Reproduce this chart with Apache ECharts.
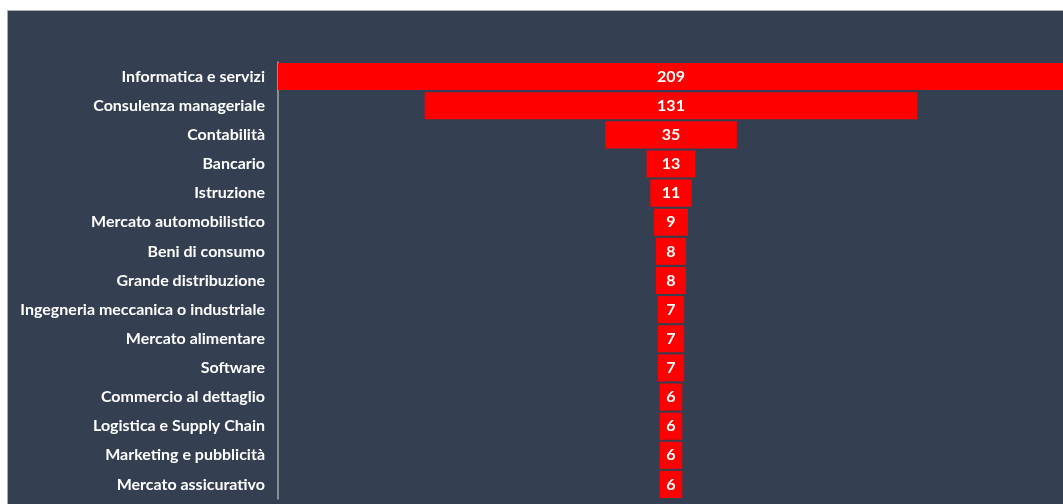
<!DOCTYPE html>
<html>
<head>
<meta charset="utf-8">
<script src="https://cdn.jsdelivr.net/npm/echarts@6/dist/echarts.min.js"></script>
<style>
  html, body { margin: 0; padding: 0; background: #ffffff; width: 1063px; height: 504px; overflow: hidden; }
  #frame {
    position: absolute; left: 7px; top: 10px; width: 1056px; height: 494px;
    border-top: 1px solid #a9acb0; border-left: 1px solid #a9acb0;
    background: #343f51;
  }
  #chart { width: 1056px; height: 494px; }
</style>
</head>
<body>
<div id="frame"><div id="chart"></div></div>
<script>
// Sectors, ordered from largest to smallest
const categories = [
  'Informatica e servizi',
  'Consulenza manageriale',
  'Contabilità',
  'Bancario',
  'Istruzione',
  'Mercato automobilistico',
  'Beni di consumo',
  'Grande distribuzione',
  'Ingegneria meccanica o industriale',
  'Mercato alimentare',
  'Software',
  'Commercio al dettaglio',
  'Logistica e Supply Chain',
  'Marketing e pubblicità',
  'Mercato assicurativo'
];
const counts = [209, 131, 35, 13, 11, 9, 8, 8, 7, 7, 7, 6, 6, 6, 6];

// Centre each bar: an invisible spacer fills half of the remaining width
const maxCount = Math.max(...counts);
const spacer = counts.map(v => (maxCount - v) / 2);

const chart = echarts.init(document.getElementById('chart'));
chart.setOption({
  backgroundColor: 'transparent',
  animation: false,
  grid: { left: 270, right: 0, top: 51, bottom: 6, containLabel: false },
  xAxis: {
    type: 'value', min: 0, max: maxCount,
    show: false
  },
  yAxis: {
    type: 'category',
    data: categories,
    inverse: true,
    axisLine: { show: true, lineStyle: { color: '#a6a8ab', width: 1.5 } },
    axisTick: { show: false },
    axisLabel: {
      color: '#ffffff', fontFamily: 'Lato', fontWeight: 'bold', fontSize: 16, margin: 13
    },
    splitLine: { show: false }
  },
  series: [
    {
      type: 'bar', stack: 'funnel', data: spacer, silent: true,
      itemStyle: { color: 'transparent' },
      barCategoryGap: '7%'
    },
    {
      type: 'bar', stack: 'funnel', data: counts,
      itemStyle: { color: '#ff0000' },
      barCategoryGap: '7%',
      label: {
        show: true, position: 'inside', color: '#ffffff',
        fontFamily: 'Lato', fontWeight: 'bold', fontSize: 16
      }
    }
  ]
});
</script>
</body>
</html>
